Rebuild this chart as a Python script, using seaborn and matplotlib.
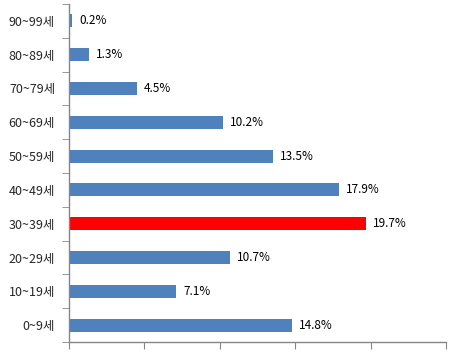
import pandas as pd
import matplotlib.pyplot as plt
import seaborn as sns
import numpy as np

ages = ['90~99세', '80~89세', '70~79세', '60~69세', '50~59세',
        '40~49세', '30~39세', '20~29세', '10~19세', '0~9세']
shares = [0.2, 1.3, 4.5, 10.2, 13.5, 17.9, 19.7, 10.7, 7.1, 14.8]
highlight = '30~39세'

df = pd.DataFrame({'age': ages, 'share': shares})

sns.set_style('white')
plt.rcParams['font.family'] = ['Noto Sans CJK KR', 'DejaVu Sans']

fig = plt.figure(figsize=(4.68, 3.54), dpi=100)
ax = fig.add_axes([69 / 468, 12 / 354, 377 / 468, 338 / 354])

colors = {a: ('#FF0000' if a == highlight else '#4F81BD') for a in ages}
sns.barplot(data=df, x='share', y='age', hue='age', palette=colors,
            order=ages, width=0.38, legend=False, saturation=1,
            linewidth=0, ax=ax)

for c in ax.containers:
    ax.bar_label(c, fmt='%.1f%%', padding=5, fontsize=8.5, color='black')

ax.set_xlim(0, 25)
ax.set_xticks(np.arange(0, 26, 5))
ax.set_xticklabels([])
ax.set_ylim(len(ages) - 0.5, -0.5)
ax.set_yticks(np.arange(-0.5, len(ages), 1), minor=True)
ax.set_xlabel('')
ax.set_ylabel('')

for side in ['top', 'right']:
    ax.spines[side].set_visible(False)
for side in ['left', 'bottom']:
    ax.spines[side].set_color('#868686')
    ax.spines[side].set_linewidth(1)

ax.tick_params(axis='y', which='major', length=0, pad=10, labelsize=9)
ax.tick_params(axis='y', which='minor', length=5, direction='out', color='#868686', left=True)
ax.tick_params(axis='x', length=5, direction='out', color='#868686', bottom=True)

fig.savefig('out.png', dpi=100)
